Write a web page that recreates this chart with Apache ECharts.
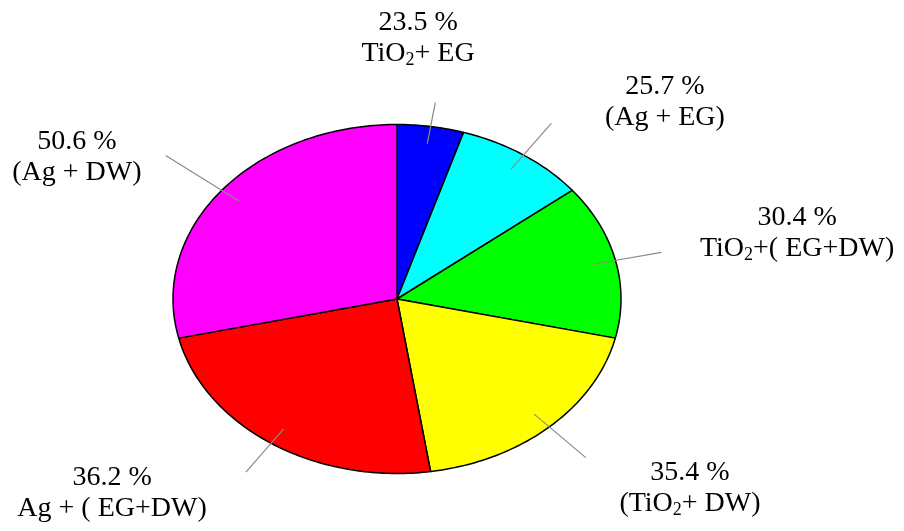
<!DOCTYPE html>
<html><head><meta charset="utf-8">
<script src="https://cdn.jsdelivr.net/npm/echarts@6/dist/echarts.min.js"></script>
<style>html,body{margin:0;padding:0;background:#fff}#c{width:904px;height:531px}</style>
</head><body><div id="c"></div>
<script>
// ---- data ----
const sliceNames = ['TiO₂+ EG', '(Ag + EG)', 'TiO₂+( EG+DW)', '(TiO₂+ DW)', 'Ag + ( EG+DW)', '(Ag + DW)'];
const percentLabels = ['23.5 %', '25.7 %', '30.4 %', '35.4 %', '36.2 %', '50.6 %'];
const sliceShares = [4.8, 9.5, 14.3, 19.0, 23.8, 28.6];   // visible share of the pie (clockwise from 12 o'clock)
const sliceColors = ['#0000ff', '#00ffff', '#00ff00', '#ffff00', '#ff0000', '#ff00ff'];

// ---- layout / style (normalized ellipse coordinates) ----
const labelAnchors = [[0.094, 1.493], [1.196, 1.129], [1.786, 0.375], [1.308, -1.083], [-1.272, -1.115], [-1.429, 0.814]];
const lineOuterR = [1.14, 1.22, 1.21, 1.24, 1.2, 1.32];
const lineInnerR = 0.9;

const total = sliceShares.reduce((a, b) => a + b, 0);
const cumStart = [];
sliceShares.reduce((acc, v, i) => { cumStart[i] = acc; return acc + v; }, 0);

function toRich(s) {
  return s.split('₂').map(p => p ? '{n|' + p + '}' : '').join('{s|2}');
}

const FONT = '"Liberation Serif", "Times New Roman", serif';

const chart = echarts.init(document.getElementById('c'), null, { renderer: 'canvas' });
chart.setOption({
  animation: false,
  backgroundColor: '#ffffff',
  grid: { left: 173, top: 124.5, width: 448, height: 349 },
  xAxis: { type: 'value', min: -1, max: 1, show: false },
  yAxis: { type: 'value', min: -1, max: 1, show: false },
  series: [{
    type: 'custom',
    coordinateSystem: 'cartesian2d',
    clip: false,
    data: sliceShares.map((v, i) => [i, v]),
    renderItem: function (params, api) {
      const i = api.value(0);
      const v = api.value(1);
      const a0 = cumStart[i] / total * Math.PI * 2;
      const a1 = (cumStart[i] + v) / total * Math.PI * 2;
      const pts = [api.coord([0, 0])];
      const n = Math.max(2, Math.ceil((a1 - a0) / (Math.PI / 180)));
      for (let k = 0; k <= n; k++) {
        const a = a0 + (a1 - a0) * k / n;
        pts.push(api.coord([Math.sin(a), Math.cos(a)]));
      }
      const am = (a0 + a1) / 2;
      const p1 = api.coord([lineInnerR * Math.sin(am), lineInnerR * Math.cos(am)]);
      const p2 = api.coord([lineOuterR[i] * Math.sin(am), lineOuterR[i] * Math.cos(am)]);
      const lp = api.coord(labelAnchors[i]);
      return {
        type: 'group',
        children: [
          { type: 'polygon', shape: { points: pts },
            style: { fill: sliceColors[i], stroke: '#000', lineWidth: 1.5, lineJoin: 'round' } },
          { type: 'line', shape: { x1: p1[0], y1: p1[1], x2: p2[0], y2: p2[1] },
            style: { stroke: '#8a8a8a', lineWidth: 1.2 } },
          { type: 'text', x: lp[0], y: lp[1],
            style: {
              text: '{n|' + percentLabels[i] + '}\n' + toRich(sliceNames[i]),
              align: 'center', verticalAlign: 'middle', fill: '#000',
              fontFamily: FONT, fontSize: 28,
              rich: {
                n: { fontFamily: FONT, fontSize: 28, lineHeight: 31, fill: '#000' },
                s: { fontFamily: FONT, fontSize: 18, lineHeight: 14, verticalAlign: 'bottom', fill: '#000' }
              }
            } }
        ]
      };
    }
  }]
});
</script>
</body></html>
